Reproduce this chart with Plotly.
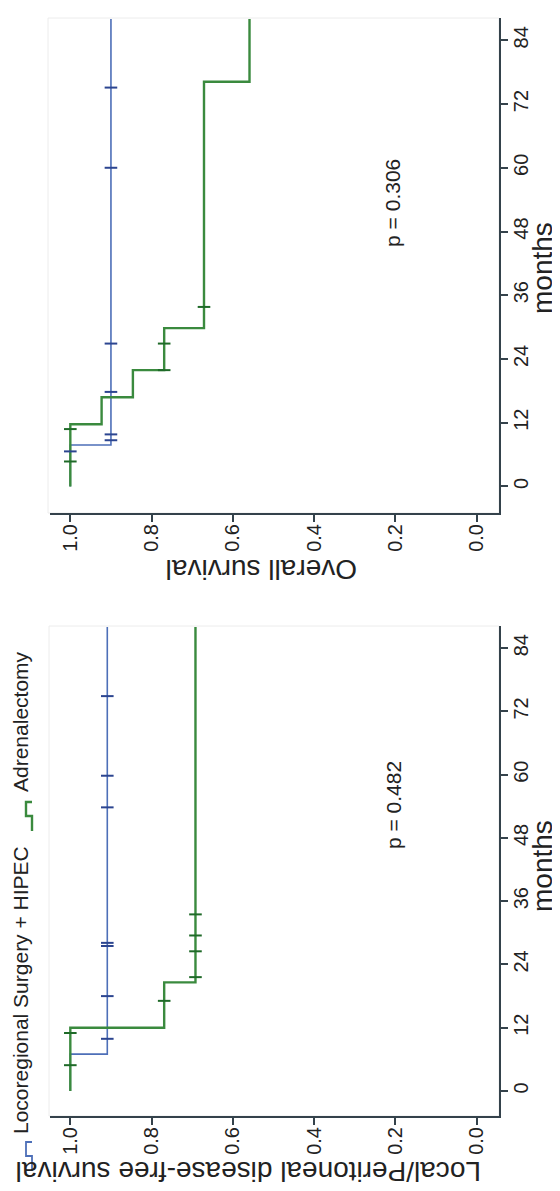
import plotly.graph_objects as go

W, H = 560, 1191

# ---- data (survival = x, months = y; figure is shown rotated) ----
# Overall survival panel (top)
os_blue_t = [0, 7.8, 88]
os_blue_s = [1.0, 0.9, 0.9]
os_blue_cens_t = [6.6, 8.7, 9.8, 17.8, 26.9, 60.0, 75.1]
os_blue_cens_s = [1.0, 0.9, 0.9, 0.9, 0.9, 0.9, 0.9]

os_green_t = [0, 11.7, 16.8, 21.9, 29.8, 76.2, 88]
os_green_s = [1.0, 0.923, 0.846, 0.769, 0.671, 0.559, 0.559]
os_green_cens_t = [4.7, 10.8, 21.9, 26.9, 33.8]
os_green_cens_s = [1.0, 1.0, 0.769, 0.769, 0.671]

# Local/Peritoneal disease-free survival panel (bottom)
dfs_blue_t = [0, 7.0, 88]
dfs_blue_s = [1.0, 0.909, 0.909]
dfs_blue_cens_t = [9.9, 18.0, 27.5, 28.1, 53.8, 59.8, 74.9]
dfs_blue_cens_s = [0.909] * 7

dfs_green_t = [0, 12.0, 20.6, 88]
dfs_green_s = [1.0, 0.769, 0.692, 0.692]
dfs_green_cens_t = [4.9, 11.0, 17.1, 21.6, 26.5, 29.5, 33.5]
dfs_green_cens_s = [1.0, 1.0, 0.769, 0.692, 0.692, 0.692, 0.692]

month_ticks = [0, 12, 24, 36, 48, 60, 72, 84]
surv_ticks = [0.0, 0.2, 0.4, 0.6, 0.8, 1.0]
surv_ticktext = ["0.0", "0.2", "0.4", "0.6", "0.8", "1.0"]

series_names = ["Locoregional Surgery + HIPEC", "Adrenalectomy"]
p_values = ["p = 0.306", "p = 0.482"]
panel_titles = ["Overall survival", "Local/Peritoneal disease-free survival"]

BLUE = "#4d6fb8"
BLUE_D = "#2c4590"
GREEN = "#3a8a3e"
GREEN_D = "#1f6a28"
AX = "#34424b"
TXT = "#222222"
FONT = "Liberation Sans"

def px(x):
    return x / W

def py(y):
    return 1 - y / H

fig = go.Figure()

def add_panel(xa, ya, bt, bs, bct, bcs, gt, gs, gct, gcs):
    fig.add_trace(go.Scatter(x=bs, y=bt, mode="lines", line=dict(color=BLUE, width=1.6, shape="vh"),
                             xaxis=xa, yaxis=ya, showlegend=False, hoverinfo="skip"))
    fig.add_trace(go.Scatter(x=gs, y=gt, mode="lines", line=dict(color=GREEN, width=2.4, shape="vh"),
                             xaxis=xa, yaxis=ya, showlegend=False, hoverinfo="skip"))
    fig.add_trace(go.Scatter(x=bcs, y=bct, mode="markers",
                             marker=dict(symbol="line-ew", size=9, line=dict(color=BLUE_D, width=2)),
                             xaxis=xa, yaxis=ya, showlegend=False, hoverinfo="skip"))
    fig.add_trace(go.Scatter(x=gcs, y=gct, mode="markers",
                             marker=dict(symbol="line-ew", size=9, line=dict(color=GREEN_D, width=2)),
                             xaxis=xa, yaxis=ya, showlegend=False, hoverinfo="skip"))

add_panel("x", "y", os_blue_t, os_blue_s, os_blue_cens_t, os_blue_cens_s,
          os_green_t, os_green_s, os_green_cens_t, os_green_cens_s)
add_panel("x2", "y2", dfs_blue_t, dfs_blue_s, dfs_blue_cens_t, dfs_blue_cens_s,
          dfs_green_t, dfs_green_s, dfs_green_cens_t, dfs_green_cens_s)

xdom = [px(42), px(491)]
xaxis_common = dict(range=[1.05, -0.055], tickvals=surv_ticks, ticktext=surv_ticktext,
                    showgrid=False, zeroline=False, showline=True, linecolor=AX, linewidth=2,
                    ticks="outside", ticklen=7, tickwidth=2, tickcolor=AX, tickangle=-90,
                    ticklabelstandoff=-6,
                    tickfont=dict(family=FONT, size=20, color=TXT), domain=xdom)
yaxis_common = dict(tickvals=month_ticks, showgrid=False, zeroline=False, showline=True,
                    linecolor=AX, linewidth=2, ticks="outside", ticklen=7, tickwidth=2,
                    tickcolor=AX, tickangle=-90, side="right", ticklabelstandoff=-4,
                    tickfont=dict(family=FONT, size=20, color=TXT))

fig.update_layout(
    width=W, height=H, margin=dict(l=0, r=0, t=0, b=0),
    paper_bgcolor="white", plot_bgcolor="white",
    xaxis=dict(anchor="y", **xaxis_common),
    yaxis=dict(anchor="x", range=[-5.0, 88.2], domain=[py(505), py(10)], **yaxis_common),
    xaxis2=dict(anchor="y2", **xaxis_common),
    yaxis2=dict(anchor="x2", range=[-4.74, 88.2], domain=[py(1108), py(618)], **yaxis_common),
)

# faint plot region borders
fig.add_shape(type="rect", xref="paper", yref="paper", x0=px(40), x1=px(491), y0=py(505), y1=py(10),
              line=dict(color="#ececec", width=1), layer="below")
fig.add_shape(type="rect", xref="paper", yref="paper", x0=px(41), x1=px(491), y0=py(1108), y1=py(618),
              line=dict(color="#ececec", width=1), layer="below")

C = dict(xanchor="center", yanchor="middle", showarrow=False)
ann = []
# p-values
ann.append(dict(x=0.207, y=53.3, xref="x", yref="y", text=p_values[0], textangle=-90,
                font=dict(family=FONT, size=21, color=TXT), **C))
ann.append(dict(x=0.205, y=54.3, xref="x2", yref="y2", text=p_values[1], textangle=-90,
                font=dict(family=FONT, size=21, color=TXT), **C))
# months labels
for yy in [260, 858]:
    ann.append(dict(x=px(534), y=py(yy), xref="paper", yref="paper", text="months", textangle=-90,
                    font=dict(family=FONT, size=28, color=TXT), **C))
# panel (survival axis) titles, upside-down
ann.append(dict(x=px(254), y=py(562), xref="paper", yref="paper", text=panel_titles[0], textangle=180,
                font=dict(family=FONT, size=28, color=TXT), **C))
ann.append(dict(x=px(241), y=py(1164), xref="paper", yref="paper", text=panel_titles[1], textangle=180,
                font=dict(family=FONT, size=28, color=TXT), **C))
# legend texts
ann.append(dict(x=px(12), y=py(982), xref="paper", yref="paper", text=series_names[0], textangle=-90,
                font=dict(family=FONT, size=21, color=TXT), **C))
ann.append(dict(x=px(12), y=py(714), xref="paper", yref="paper", text=series_names[1], textangle=-90,
                font=dict(family=FONT, size=21, color=TXT), **C))
fig.update_layout(annotations=ann)

# legend keys (step glyphs)
def key_path(xl, xr, ybot, ymid, ytop):
    pts = [(xr, ybot), (xr, ymid), (xl, ymid), (xl, ytop), (xr, ytop)]
    return "M " + " L ".join(f"{px(a):.5f},{py(b):.5f}" for a, b in pts)

fig.add_shape(type="path", xref="paper", yref="paper", path=key_path(18, 24, 1163, 1148, 1134),
              line=dict(color=BLUE, width=1.8))
fig.add_shape(type="path", xref="paper", yref="paper", path=key_path(18, 24, 823, 808, 794),
              line=dict(color=GREEN, width=2.4))

fig.write_html("out.html")
